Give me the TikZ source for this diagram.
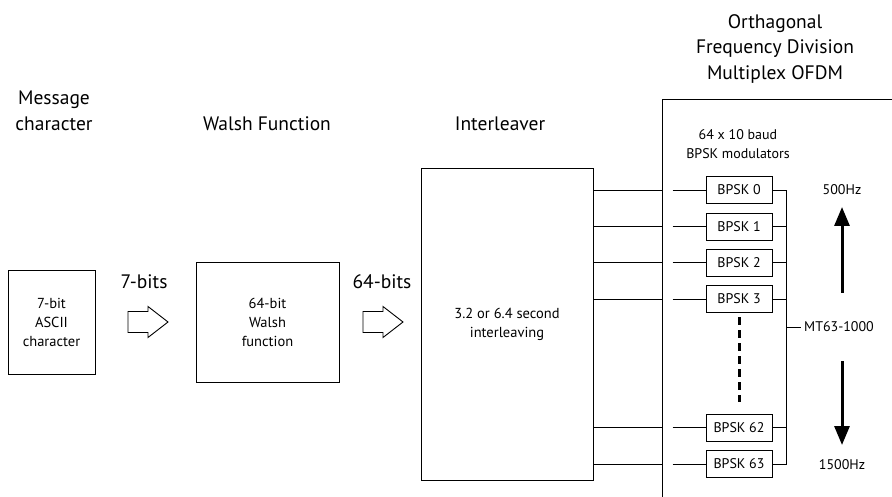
\documentclass[tikz,border=0pt]{standalone}
\usepackage{fontspec}
\setmainfont{PT Sans}
\usetikzlibrary{arrows.meta}
\begin{document}
\begin{tikzpicture}[x=1pt,y=-1pt,
  box/.style={draw=black, line width=0.9pt, inner sep=0pt, align=center, font=\fontsize{14.5}{19}\selectfont},
  title/.style={inner sep=0pt, align=center, font=\fontsize{19.5}{25.5}\selectfont},
  small/.style={inner sep=0pt, align=center, font=\fontsize{14}{19}\selectfont},
  bpsk/.style={draw=black, line width=0.9pt, minimum width=66pt, minimum height=27pt, inner sep=0pt, font=\fontsize{14}{17}\selectfont},
  wire/.style={line width=0.9pt},
  hollow/.style={draw=black, line width=0.9pt, fill=white, line join=miter},
  freq/.style={line width=3pt, -{Triangle[length=19pt,width=15pt]}},
  dots/.style={line width=3pt, dash pattern=on 8pt off 5pt}
]
\useasboundingbox (0,0) rectangle (892,497);

% titles
\node[title] (tmsg) at (54,111) {Message\\character};
\node[title, anchor=base] (twalsh) at (267,131) {Walsh Function};
\node[title, anchor=base] (tinter) at (500,131) {Interleaver};
\node[title] (tofdm) at (775,49) {Orthagonal\\Frequency Division\\Multiplex OFDM};

% main boxes
\node[box, minimum width=87pt, minimum height=104pt] (msg) at (51.5,322) {7-bit\\ASCII\\character};
\node[box, minimum width=143pt, minimum height=120pt] (walsh) at (267.5,322) {64-bit\\Walsh\\function};
\node[box, minimum width=172pt, minimum height=312pt] (inter) at (507,324) {3.2 or 6.4 second\\interleaving};

% bit labels and hollow arrows
\node[title, anchor=base] (l7) at (144,289) {7-bits};
\node[title, anchor=base] (l64) at (382,289) {64-bits};
\draw[hollow] (128,311.5) -- (148,311.5) -- (148,306.5) -- (168,322) -- (148,337.5) -- (148,332.5) -- (128,332.5) -- cycle;
\draw[hollow] (363,311.5) -- (383,311.5) -- (383,306.5) -- (403,322) -- (383,337.5) -- (383,332.5) -- (363,332.5) -- cycle;

% OFDM box
\coordinate (oTR) at (892,100);
\coordinate (oTL) at (662,100);
\coordinate (oBL) at (662,497);
\draw[line width=1pt] (oTR) -- (oTL) -- (oBL);
\node[small] (tmod) at (738,144) {64 x 10 baud\\BPSK modulators};

% BPSK modulators
\node[bpsk] (b0) at (739,190) {BPSK 0};
\node[bpsk] (b1) at (739,226.5) {BPSK 1};
\node[bpsk] (b2) at (739,262.5) {BPSK 2};
\node[bpsk] (b3) at (739,299) {BPSK 3};
\node[bpsk] (b62) at (739,427.5) {BPSK 62};
\node[bpsk] (b63) at (739,464) {BPSK 63};

% wires interleaver -> OFDM and into modulators
\foreach \b in {b0,b1,b2,b3,b62,b63}{
  \draw[wire] (inter.east |- \b) -- (oTL |- \b);
  \draw[wire] ([xshift=-33pt]\b.west) -- (\b.west);
}

% bus
\draw[wire] (b0.east) -- ++(14,0) |- (b63.east);
\foreach \b in {b1,b2,b3,b62}{
  \draw[wire] (\b.east) -- ++(14,0);
}
\coordinate (bus) at (786,327);
\node[small, anchor=west, inner sep=3pt] (mt) at (801,327) {MT63-1000};
\draw[wire] (bus) -- (mt.west);

% dots between BPSK 3 and BPSK 62
\coordinate (dt) at (739,317);
\coordinate (db) at (739,402);
\draw[dots] (dt) -- (db);

% frequency arrows
\node[small] (f500) at (842,190) {500Hz};
\node[small] (f1500) at (842,465) {1500Hz};
\coordinate (u0) at (842,293);
\coordinate (u1) at (842,207);
\coordinate (d0) at (842,361);
\coordinate (d1) at (842,445);
\draw[freq] (u0) -- (u1);
\draw[freq] (d0) -- (d1);
\end{tikzpicture}
\end{document}
